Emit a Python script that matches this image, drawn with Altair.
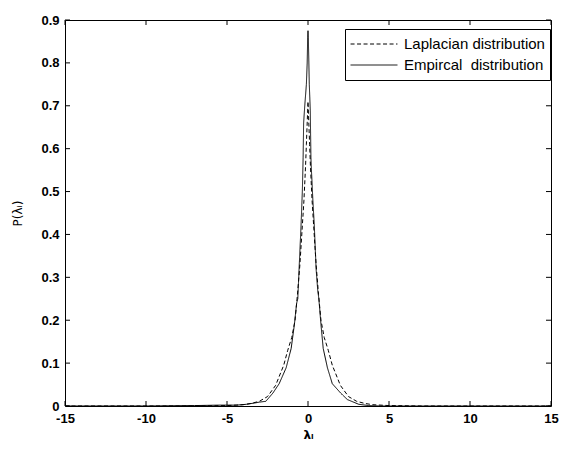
import altair as alt
import pandas as pd

series_names = ["Laplacian distribution", "Empircal\u00a0 distribution"]

lap_x = [-15, -10, -7, -5, -4, -3.5, -3, -2.5, -2, -1.5, -1.25, -1, -0.8, -0.65, -0.5, -0.35,
         -0.25, -0.15, -0.1, -0.05, 0, 0.05, 0.1, 0.15, 0.25, 0.35, 0.5, 0.65, 0.8, 1, 1.25,
         1.5, 2, 2.5, 3, 3.5, 4, 5, 7, 10, 15]
lap_y = [0, 0, 0, 0.001, 0.003, 0.006, 0.011, 0.022, 0.048, 0.095, 0.13, 0.16, 0.2, 0.26, 0.33, 0.42,
         0.48, 0.56, 0.61, 0.66, 0.71, 0.66, 0.61, 0.56, 0.48, 0.42, 0.33, 0.26, 0.2, 0.16, 0.13,
         0.095, 0.048, 0.022, 0.011, 0.006, 0.003, 0.001, 0, 0, 0]

emp_x = [-15, -10, -7, -5.5, -4.4, -3.8, -3.3, -3.0, -2.6, -2.17, -1.78, -1.35, -1.04, -0.84, -0.7,
         -0.63, -0.55, -0.43, -0.35, -0.3, -0.27, -0.2, -0.1, -0.05, -0.02, 0, 0.02, 0.08, 0.14,
         0.18, 0.2, 0.3, 0.39, 0.5, 0.6, 0.67, 0.8, 0.94, 1.2, 1.5, 2.02, 2.43, 3.13, 3.74, 4.5,
         7, 10, 15]
emp_y = [0, 0, 0.001, 0.002, 0.002, 0.004, 0.007, 0.009, 0.011, 0.03, 0.052, 0.089, 0.134, 0.19, 0.24,
         0.25, 0.32, 0.42, 0.5, 0.58, 0.66, 0.70, 0.75, 0.80, 0.86, 0.875, 0.86, 0.75, 0.69,
         0.58, 0.56, 0.48, 0.42, 0.32, 0.27, 0.25, 0.19, 0.134, 0.089, 0.052, 0.03, 0.015, 0.004, 0.001, 0,
         0, 0, 0]

x_ticks = [-15, -10, -5, 0, 5, 10, 15]
y_ticks = [0, 0.1, 0.2, 0.3, 0.4, 0.5, 0.6, 0.7, 0.8, 0.9]

W, H = 486, 386

df = pd.concat([
    pd.DataFrame({"x": lap_x, "y": lap_y, "series": series_names[0], "order": range(len(lap_x))}),
    pd.DataFrame({"x": emp_x, "y": emp_y, "series": series_names[1], "order": range(len(emp_x))}),
])

xs = alt.Scale(domain=[-15, 15], nice=False, zero=False)
ys = alt.Scale(domain=[0, 0.9], nice=False)

FONT = "Liberation Sans"
TFONT = "DejaVu Sans"

x_axis = alt.Axis(
    values=x_ticks, labelExpr="toString(datum.value)", tickSize=0, domain=False, grid=False,
    labelFont=FONT, labelFontWeight="bold", labelFontSize=13, labelColor="black",
    labelPadding=6, labelFlush=False,
    title="λᵢ", titleFont=TFONT, titleFontWeight="bold", titleFontSize=12,
    titleColor="black", titlePadding=4)
y_axis = alt.Axis(
    values=y_ticks, format=".1~f", tickSize=0, domain=False, grid=False,
    labelFont=FONT, labelFontWeight="bold", labelFontSize=13, labelColor="black",
    labelPadding=6, labelFlush=False,
    title="P(λᵢ)", titleFont=TFONT, titleFontWeight="normal", titleFontSize=12,
    titleColor="black", titlePadding=16)

lines = alt.Chart(df).mark_line(color="black", strokeWidth=1, clip=True).encode(
    x=alt.X("x:Q", scale=xs, axis=x_axis),
    y=alt.Y("y:Q", scale=ys, axis=y_axis),
    strokeDash=alt.StrokeDash("series:N", scale=alt.Scale(domain=series_names, range=[[4, 2.5], [1, 0]]),
                              legend=alt.Legend(
                                  title=None, orient="none", legendX=280, legendY=9,
                                  strokeColor="black", fillColor="white", padding=5,
                                  symbolType="stroke", symbolSize=2200, symbolStrokeWidth=1,
                                  symbolStrokeColor="black", clipHeight=20,
                                  labelFont=FONT, labelFontSize=15, labelColor="black",
                                  rowPadding=1, labelOffset=6)),
    order="order:Q",
)

xt = pd.DataFrame({"x": x_ticks})
yt = pd.DataFrame({"y": y_ticks})

xtick_b = alt.Chart(xt).mark_rule(color="black").encode(
    x=alt.X("x:Q", scale=xs, axis=x_axis), y=alt.value(H), y2=alt.value(H - 5))
xtick_t = alt.Chart(xt).mark_rule(color="black").encode(
    x=alt.X("x:Q", scale=xs, axis=x_axis), y=alt.value(0), y2=alt.value(5))
ytick_l = alt.Chart(yt).mark_rule(color="black").encode(
    y=alt.Y("y:Q", scale=ys, axis=y_axis), x=alt.value(0), x2=alt.value(5))
ytick_r = alt.Chart(yt).mark_rule(color="black").encode(
    y=alt.Y("y:Q", scale=ys, axis=y_axis), x=alt.value(W), x2=alt.value(W - 5))

chart = alt.layer(lines, xtick_b, xtick_t, ytick_l, ytick_r).properties(
    width=W, height=H,
    autosize=alt.AutoSizeParams(type="none"),
    padding={"left": 57, "top": 12, "right": 8, "bottom": 39},
    background="white",
).configure_view(stroke="black", strokeWidth=1)

chart.save("out.html", embed_options={"renderer": "svg", "actions": False})
